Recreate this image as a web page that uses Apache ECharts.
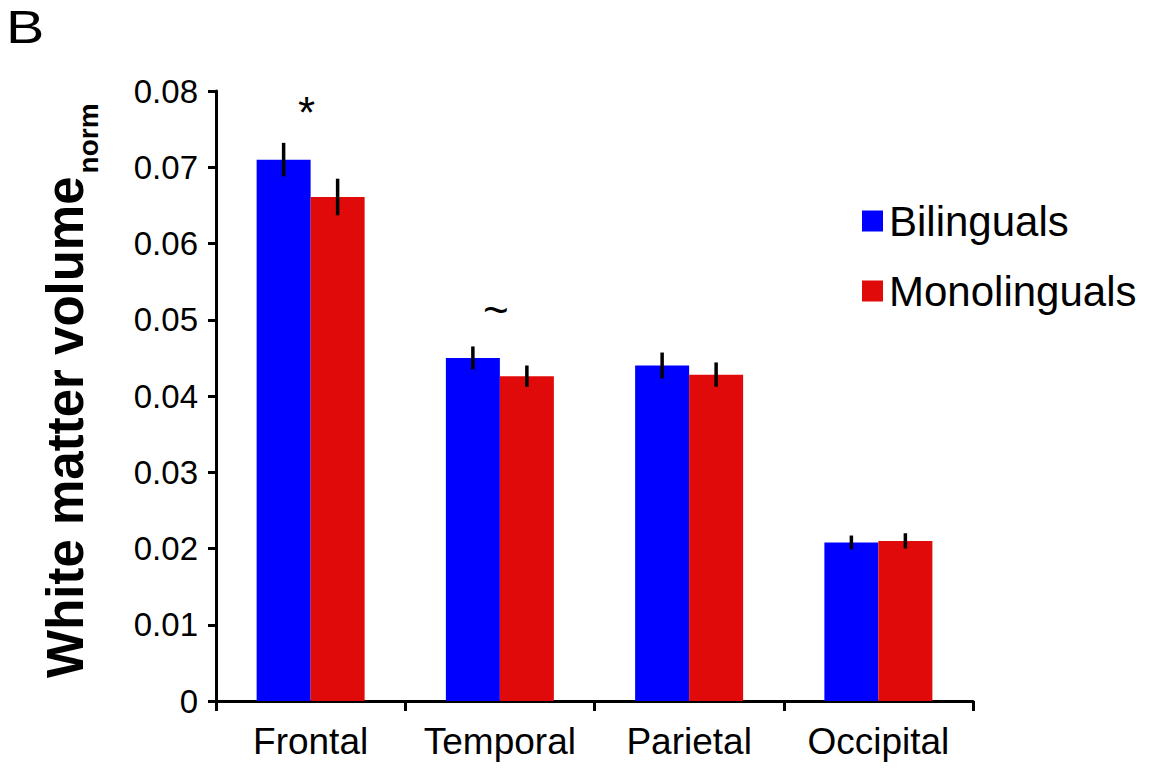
<!DOCTYPE html>
<html>
<head>
<meta charset="utf-8">
<script src="https://cdn.jsdelivr.net/npm/echarts@6/dist/echarts.min.js"></script>
<style>
  html, body { margin: 0; padding: 0; background: #fff; }
  #chart { width: 1157px; height: 771px; }
</style>
</head>
<body>
<div id="chart"></div>
<script>
// ---- data ----
const categories = ['Frontal', 'Temporal', 'Parietal', 'Occipital'];
const seriesNames = ['Bilinguals', 'Monolinguals'];
const biValues = [0.0710, 0.0450, 0.0440, 0.0208];
const biErr = [0.0022, 0.0015, 0.0017, 0.0009];
const monoValues = [0.0661, 0.0426, 0.0428, 0.0210];
const monoErr = [0.0024, 0.0014, 0.0016, 0.0010];
const yTicks = [0, 0.01, 0.02, 0.03, 0.04, 0.05, 0.06, 0.07, 0.08];
const annoCategory = [0, 1];
const annoText = ['*', '~'];

const FONT = '"Liberation Sans", Arial, Helvetica, sans-serif';
const BLUE = '#0000FF';
const RED = '#E00A0A';
const BAR_W = 54;

const chart = echarts.init(document.getElementById('chart'), null, { renderer: 'svg' });

function measure(text, font) {
  const c = document.createElement('canvas').getContext('2d');
  c.font = font;
  return c.measureText(text).width;
}
const mainFont = 'bold 51px ' + FONT;
const subFont = 'bold 28px ' + FONT;
const mainW = measure('White matter volume', mainFont);

// error bar data: [catIndex, value, err, offsetSign]
const errData = [];
categories.forEach((c, i) => {
  errData.push([i, biValues[i], biErr[i], -1]);
  errData.push([i, monoValues[i], monoErr[i], 1]);
});
const annoData = annoCategory.map((ci, k) => [ci, Math.max(biValues[ci] + biErr[ci], monoValues[ci] + monoErr[ci]), annoText[k]]);

const option = {
  backgroundColor: '#fff',
  animation: false,
  grid: { left: 216, right: 184, top: 91, bottom: 70, containLabel: false },
  legend: {
    orient: 'vertical',
    left: 857,
    top: 193,
    itemWidth: 21,
    itemHeight: 21,
    itemGap: 24,
    icon: 'rect',
    data: seriesNames,
    textStyle: { fontFamily: FONT, fontSize: 42, color: '#000', lineHeight: 46, padding: [0, 0, 0, 1] }
  },
  xAxis: {
    type: 'category',
    data: categories,
    axisLine: { lineStyle: { color: '#000', width: 3 } },
    axisTick: { show: true, interval: 0, length: 10, lineStyle: { color: '#000', width: 3 } },
    axisLabel: { interval: 0, color: '#000', fontFamily: FONT, fontSize: 37, margin: 22 },
    splitLine: { show: false }
  },
  yAxis: {
    type: 'value',
    min: yTicks[0],
    max: yTicks[yTicks.length - 1],
    interval: yTicks[1] - yTicks[0],
    axisLine: { show: true, lineStyle: { color: '#000', width: 3 } },
    axisTick: { show: true, length: 8, lineStyle: { color: '#000', width: 3 } },
    axisLabel: {
      color: '#000', fontFamily: FONT, fontSize: 33, margin: 18,
      formatter: v => (Math.abs(v) < 1e-9 ? '0' : v.toFixed(2))
    },
    splitLine: { show: false }
  },
  series: [
    {
      name: seriesNames[0], type: 'bar', data: biValues, barWidth: BAR_W, barGap: '0%',
      itemStyle: { color: BLUE }
    },
    {
      name: seriesNames[1], type: 'bar', data: monoValues, barWidth: BAR_W, barGap: '0%',
      itemStyle: { color: RED }
    },
    {
      type: 'custom',
      data: errData,
      silent: true,
      z: 10,
      renderItem: function (params, api) {
        const ci = api.value(0), v = api.value(1), e = api.value(2), s = api.value(3);
        const top = api.coord([ci, v + e]);
        const bot = api.coord([ci, v - e]);
        const x = top[0] + s * BAR_W / 2;
        return {
          type: 'line',
          shape: { x1: x, y1: top[1], x2: x, y2: bot[1] },
          style: { stroke: '#000', lineWidth: 3.5 }
        };
      }
    },
    {
      type: 'custom',
      data: annoData,
      silent: true,
      z: 10,
      renderItem: function (params, api) {
        const p = api.coord([api.value(0), api.value(1)]);
        const isStar = annoText[params.dataIndex] === '*';
        return {
          type: 'text',
          x: p[0] - 4,
          y: p[1] - (isStar ? 30 : 37),
          style: {
            text: annoText[params.dataIndex],
            font: '44px ' + FONT,
            fill: '#000',
            textAlign: 'center',
            textVerticalAlign: 'middle'
          }
        };
      }
    }
  ],
  graphic: [
    {
      type: 'text',
      x: 6, y: 27,
      scaleX: 1.25, scaleY: 1,
      style: { text: 'B', font: '46px ' + FONT, fill: '#000', textAlign: 'left', textVerticalAlign: 'middle' }
    },
    {
      type: 'group',
      x: 65, y: 678,
      rotation: Math.PI / 2,
      children: [
        {
          type: 'text', x: 0, y: 0,
          style: { text: 'White matter volume', font: mainFont, fill: '#000', textAlign: 'left', textVerticalAlign: 'middle' }
        },
        {
          type: 'text', x: mainW + 3, y: 23,
          style: { text: 'norm', font: subFont, fill: '#000', textAlign: 'left', textVerticalAlign: 'middle' }
        }
      ]
    }
  ]
};
chart.setOption(option);
</script>
</body>
</html>
